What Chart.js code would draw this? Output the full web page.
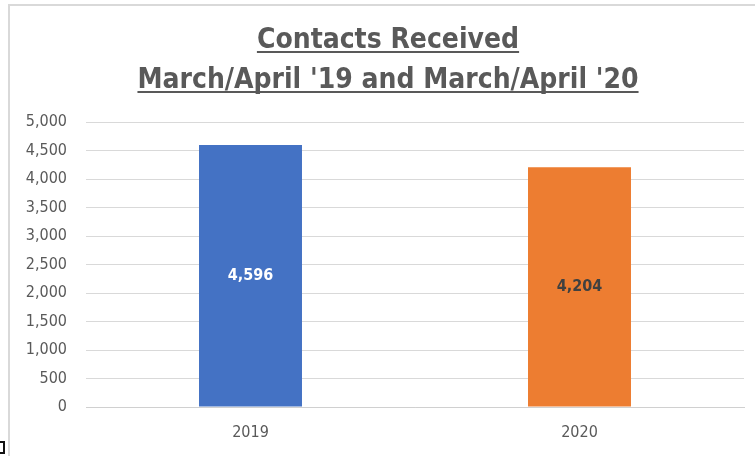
<!DOCTYPE html>
<html>
<head>
<meta charset="utf-8">
<script src="https://cdn.jsdelivr.net/npm/chart.js"></script>
<style>
  html, body { margin: 0; padding: 0; background: #fff; overflow: hidden; }
  body { width: 755px; height: 456px; position: relative; }
  #topline { position: absolute; left: 8px; top: 4px; width: 747px; height: 2px; background: #d9d9d9; }
  #leftline { position: absolute; left: 8px; top: 4px; width: 2px; height: 452px; background: #d9d9d9; }
  #wrap { position: absolute; left: 10px; top: 6px; width: 745px; height: 450px; }
  #mark { position: absolute; left: -4px; top: 441px; width: 5px; height: 9px; border: 2px solid #111; }
</style>
</head>
<body>
<div id="topline"></div>
<div id="leftline"></div>
<div id="wrap"><canvas id="contactsChart"></canvas></div>
<div id="mark"></div>
<script>
// Chart data
const categories = ['2019', '2020'];
const contacts = [4596, 4204];
const barColors = ['#4472C4', '#ED7D31'];
const labelColors = ['#ffffff', '#404040'];
const titleLines = ['Contacts Received', "March/April '19 and March/April '20"];

const FONT = '"Liberation Sans Narrow", "DejaVu Sans Condensed", sans-serif';

// title with underline, drawn on the canvas
const titlePlugin = {
    id: 'underlinedTitle',
    afterDraw(chart) {
        const ctx = chart.ctx;
        ctx.save();
        ctx.font = 'bold 28px ' + FONT;
        ctx.fillStyle = '#595959';
        ctx.textAlign = 'center';
        ctx.textBaseline = 'alphabetic';
        const cx = 378;
        const baselines = [42, 82];
        titleLines.forEach((t, i) => {
            ctx.fillText(t, cx, baselines[i]);
            const w = ctx.measureText(t).width;
            ctx.fillRect(cx - w / 2, baselines[i] + 3, w, 2);
        });
        ctx.restore();
    }
};

// value labels in the middle of each bar
const valueLabels = {
    id: 'valueLabels',
    afterDatasetsDraw(chart) {
        const ctx = chart.ctx;
        const meta = chart.getDatasetMeta(0);
        ctx.save();
        ctx.font = 'bold 16px ' + FONT;
        ctx.textAlign = 'center';
        ctx.textBaseline = 'middle';
        meta.data.forEach((bar, i) => {
            const y = (bar.y + bar.base) / 2;
            ctx.fillStyle = labelColors[i];
            ctx.fillText(contacts[i].toLocaleString('en-US'), bar.x, y);
        });
        ctx.restore();
    }
};

new Chart(document.getElementById('contactsChart'), {
    type: 'bar',
    data: {
        labels: categories,
        datasets: [{
            data: contacts,
            backgroundColor: barColors,
            borderWidth: 0,
            categoryPercentage: 1,
            barPercentage: 0.313
        }]
    },
    options: {
        responsive: true,
        maintainAspectRatio: false,
        animation: false,
        layout: { padding: { top: 116, right: 11, left: 0, bottom: 0 } },
        plugins: {
            legend: { display: false },
            title: { display: false },
            tooltip: { enabled: false }
        },
        scales: {
            y: {
                min: 0,
                max: 5000,
                ticks: {
                    stepSize: 500,
                    padding: 19,
                    color: '#595959',
                    font: { family: FONT, size: 16 },
                    callback: v => v.toLocaleString('en-US')
                },
                grid: { color: '#d9d9d9', lineWidth: 1, drawTicks: false },
                border: { display: false },
                afterFit(scale) { scale.width = 76; }
            },
            x: {
                ticks: {
                    padding: 16,
                    color: '#595959',
                    font: { family: FONT, size: 16 }
                },
                grid: { display: false, drawTicks: false },
                border: { color: '#d0d0d0', width: 1 },
                afterFit(scale) { scale.height = 49; }
            }
        }
    },
    plugins: [titlePlugin, valueLabels]
});
</script>
</body>
</html>
